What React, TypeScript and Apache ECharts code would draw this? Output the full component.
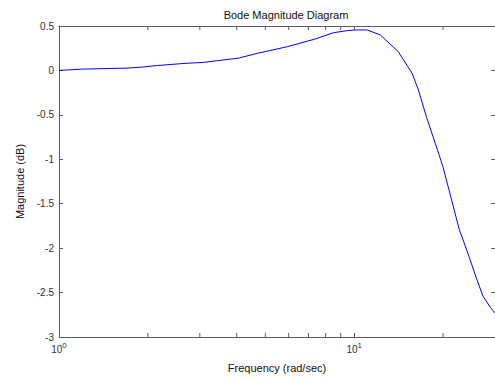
import React, { useEffect, useRef } from "react";
import * as echarts from "echarts";

const freq = [1, 1.2, 1.7, 1.9, 2.15, 2.45, 2.75, 3.05, 4.05, 4.72, 5.95, 7.33, 8.53, 9.48, 10.2, 11.05, 12.26, 14.1, 15.7, 16.5, 17.55, 19.97, 22.7, 24.0, 25.9, 27.3, 29.0, 30];
const magnitude = [0, 0.015, 0.026, 0.037, 0.055, 0.07, 0.082, 0.089, 0.138, 0.194, 0.268, 0.351, 0.425, 0.448, 0.456, 0.456, 0.4, 0.212, -0.03, -0.218, -0.517, -1.078, -1.79, -2.01, -2.33, -2.54, -2.67, -2.73];
const minorTicks = [2, 3, 4, 5, 6, 7, 8, 9, 20];
const yTicks = { min: -3, max: 0.5, interval: 0.5 };
const xRange = { min: 1, max: 30 };

const AXIS_COLOR = "#5a5a78";
const TEXT_COLOR = "#333";
const FONT = "Liberation Sans, Arial, sans-serif";

export default function App() {
  const ref = useRef<HTMLDivElement>(null);
  useEffect(() => {
    if (!ref.current) return;
    const chart = echarts.init(ref.current, undefined, { renderer: "svg" });
    const xCommon = {
      type: "log" as const,
      logBase: 10,
      min: xRange.min,
      max: xRange.max,
      splitLine: { show: false },
      axisLine: { show: true, onZero: false, lineStyle: { color: AXIS_COLOR, width: 1 } },
      axisTick: { show: true, inside: true, length: 4, lineStyle: { color: AXIS_COLOR } },
    };
    const yCommon = {
      type: "value" as const,
      min: yTicks.min,
      max: yTicks.max,
      interval: yTicks.interval,
      splitLine: { show: false },
      axisLine: { show: true, onZero: false, lineStyle: { color: AXIS_COLOR, width: 1 } },
      axisTick: { show: true, inside: true, length: 4, lineStyle: { color: AXIS_COLOR } },
    };
    chart.setOption({
      animation: false,
      backgroundColor: "#fff",
      textStyle: { fontFamily: FONT },
      title: {
        text: "Bode Magnitude Diagram",
        left: 281,
        textAlign: "center",
        top: 4,
        textStyle: { fontSize: 11, fontWeight: "normal", color: "#111", fontFamily: FONT },
      },
      grid: { left: 59, right: -4, top: 26, bottom: 40 },
      xAxis: [
        {
          ...xCommon,
          position: "bottom",
          name: "Frequency (rad/sec)",
          nameLocation: "middle",
          nameGap: 25,
          nameTextStyle: { fontSize: 11, color: "#111", fontFamily: FONT },
          axisLabel: {
            show: true,
            margin: 4,
            showMaxLabel: false,
            formatter: (v: number) => {
              const e = Math.round(Math.log10(v));
              if (Math.abs(Math.pow(10, e) - v) > 1e-6) return "";
              return `{b|10}{s|${e}}`;
            },
            rich: {
              b: { fontSize: 10, lineHeight: 12, padding: [4, 0, 0, 0], color: TEXT_COLOR, fontFamily: FONT },
              s: { fontSize: 8, lineHeight: 8, verticalAlign: "top", color: TEXT_COLOR, fontFamily: FONT },
            },
          },
        },
        {
          ...xCommon,
          position: "top",
          axisLabel: { show: false },
        },
      ],
      yAxis: [
        {
          ...yCommon,
          position: "left",
          name: "Magnitude (dB)",
          nameLocation: "middle",
          nameGap: 31,
          nameTextStyle: { fontSize: 11, color: "#111", fontFamily: FONT },
          axisLabel: { show: true, margin: 5, fontSize: 10, color: TEXT_COLOR, fontFamily: FONT },
        },
        {
          ...yCommon,
          position: "right",
          axisLabel: { show: false },
        },
      ],
      series: [
        {
          type: "line",
          xAxisIndex: 0,
          yAxisIndex: 0,
          data: freq.map((f, i) => [f, magnitude[i]]),
          showSymbol: false,
          smooth: false,
          lineStyle: { color: "#0000ff", width: 1 },
          itemStyle: { color: "#0000ff" },
        },
        {
          type: "custom",
          xAxisIndex: 0,
          yAxisIndex: 0,
          silent: true,
          data: minorTicks.map((f) => [f]),
          renderItem: (params: any, api: any) => {
            const f = api.value(0);
            const bottom = api.coord([f, yTicks.min]);
            const top = api.coord([f, yTicks.max]);
            const style = { stroke: AXIS_COLOR, lineWidth: 1 };
            return {
              type: "group",
              children: [
                { type: "line", shape: { x1: bottom[0], y1: bottom[1], x2: bottom[0], y2: bottom[1] - 4 }, style },
                { type: "line", shape: { x1: top[0], y1: top[1], x2: top[0], y2: top[1] + 4 }, style },
              ],
            };
          },
        },
      ],
    });
    return () => chart.dispose();
  }, []);
  return (
    <div
      ref={ref}
      style={{ position: "fixed", left: 0, top: 0, width: 495, height: 378 }}
    />
  );
}
